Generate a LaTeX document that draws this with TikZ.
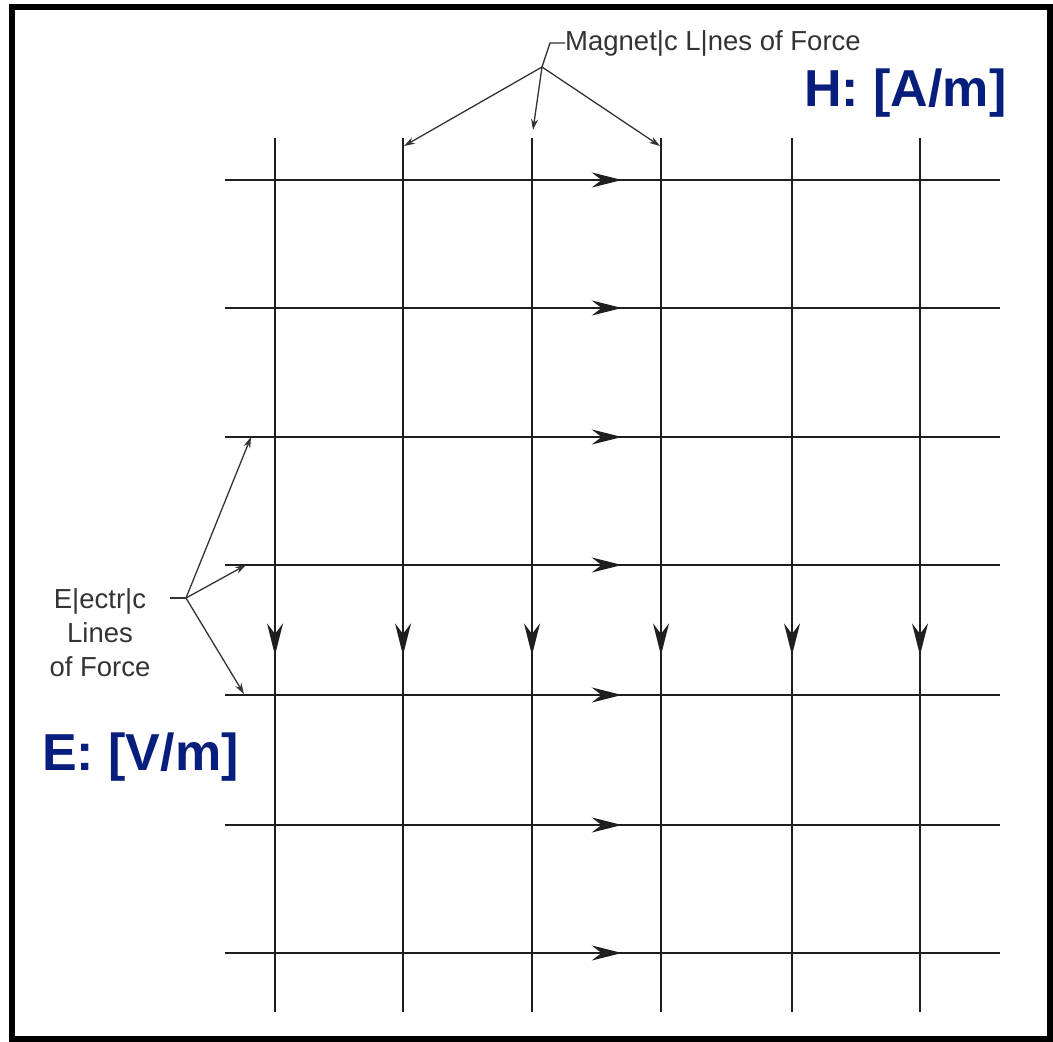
\documentclass[tikz,border=0pt]{standalone}
\usepackage{fontspec}
\setmainfont{Liberation Sans}
\usetikzlibrary{arrows.meta, decorations.markings, positioning}
\definecolor{unitblue}{RGB}{8,30,125}
\tikzset{
  fieldline/.style={line width=1.8pt, color=black!88},
  eline/.style={fieldline, postaction={decorate},
    decoration={markings, mark=at position 0.512 with {\arrow{Stealth[length=30pt,width=15pt]}}}},
  hline/.style={fieldline, postaction={decorate},
    decoration={markings, mark=at position 0.592 with {\arrow{Stealth[length=32pt,width=16pt]}}}},
  leader/.style={line width=1.3pt, color=black!80},
  pointer/.style={leader, -{Stealth[length=11pt,width=7pt]}},
  lbl/.style={inner sep=0pt, text=black!80, font=\fontsize{27.5}{34}\selectfont},
  unitlbl/.style={inner sep=0pt, text=unitblue, font=\fontsize{52}{58}\selectfont\bfseries}
}
\begin{document}
\begin{tikzpicture}[x=1pt, y=-1pt]
  \useasboundingbox (0,0) rectangle (1053,1042);
  \draw[line width=6pt] (12,6.5) rectangle (1049.5,1039);

  % electric lines (E, horizontal)
  \foreach \y in {180,308,437,565,695,825,953}
    \draw[eline] (225,\y) -- (1000,\y);

  % magnetic lines (H, vertical)
  \foreach \x in {275,403,532,661,792,920}
    \draw[hline] (\x,138) -- (\x,1012);

  % magnetic label
  \node[lbl, anchor=west] (mag) at (565,43) {Magnet|c L|nes of Force};
  \coordinate (mjoin) at (542,67);
  \coordinate (m1) at (404,146);
  \coordinate (m2) at (533,130);
  \coordinate (m3) at (660,146);
  \draw[leader] (mag.west) -- ++(-15,0) -- (mjoin);
  \draw[pointer] (mjoin) -- (m1);
  \draw[pointer] (mjoin) -- (m2);
  \draw[pointer] (mjoin) -- (m3);

  % electric label
  \node[lbl, align=center] (elec) at (100,633) {E|ectr|c\\Lines\\of Force};
  \coordinate (ejoin) at (186,598);
  \coordinate (e1) at (251,437);
  \coordinate (e2) at (246,565);
  \coordinate (e3) at (244,694);
  \draw[leader] ([xshift=-16pt]ejoin) -- (ejoin);
  \draw[pointer] (ejoin) -- (e1);
  \draw[pointer] (ejoin) -- (e2);
  \draw[pointer] (ejoin) -- (e3);

  % units
  \node[unitlbl, anchor=west] (hunit) at (804,93) {H: [A/m]};
  \node[unitlbl, anchor=west] (eunit) at (42,757) {E: [V/m]};
\end{tikzpicture}
\end{document}
